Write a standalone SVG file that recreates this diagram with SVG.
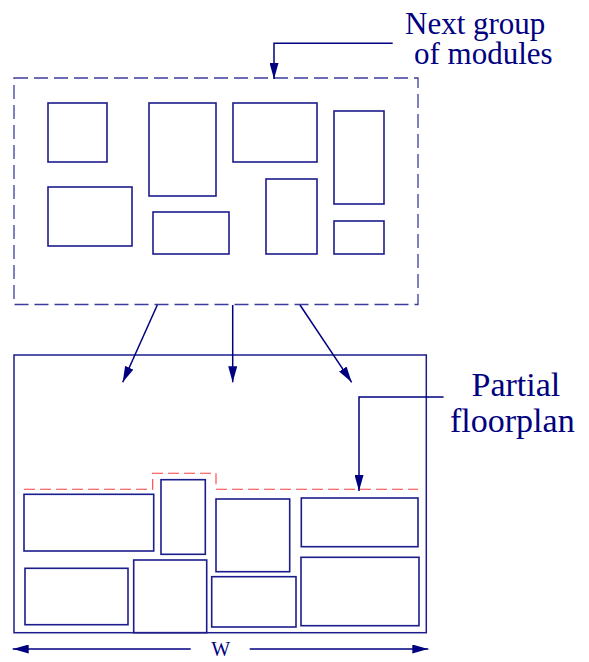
<svg xmlns="http://www.w3.org/2000/svg" width="589" height="662" viewBox="0 0 589 662">
<defs>
<marker id="ah" viewBox="0 0 16 9" refX="16" refY="4.5" markerWidth="16" markerHeight="9" markerUnits="userSpaceOnUse" orient="auto">
<path d="M0,0 L16,4.5 L0,9 Z" fill="#000080"/>
</marker>
<style>
.mod{fill:none;stroke:#1c1c8c;stroke-width:1.6}
.grp{fill:none;stroke:#3c3c9c;stroke-width:1.3;stroke-dasharray:14 6}
.outer{fill:none;stroke:#1c1c8c;stroke-width:1.5}
.red{fill:none;stroke:#ff4040;stroke-width:1.1;stroke-dasharray:11 5}
.con{fill:none;stroke:#000080;stroke-width:1.5}
.lbl{fill:#000080}
</style>
</defs>
<rect width="589" height="662" fill="#ffffff"/>
<g id="next-group">
<rect class="grp" x="14" y="78" width="404" height="226.5"/>
<rect class="mod" x="48" y="103" width="59" height="59"/>
<rect class="mod" x="149" y="103" width="67" height="93"/>
<rect class="mod" x="233" y="103" width="84" height="59"/>
<rect class="mod" x="334" y="111" width="50" height="93"/>
<rect class="mod" x="48" y="187" width="84" height="59"/>
<rect class="mod" x="153" y="212" width="76" height="42"/>
<rect class="mod" x="266" y="179" width="51" height="75"/>
<rect class="mod" x="334" y="221" width="50" height="33"/>
</g>
<g id="partial-floorplan">
<rect class="outer" x="14" y="355" width="412.3" height="277.7"/>
<path class="red" d="M24,489.3 H152.7 V473.3 H216 V489.3 H418"/>
<rect class="mod" x="24" y="494.3" width="129.7" height="56.7"/>
<rect class="mod" x="161" y="479.7" width="44.3" height="74.6"/>
<rect class="mod" x="216" y="499" width="73.7" height="72.7"/>
<rect class="mod" x="301.3" y="498" width="116.7" height="48.7"/>
<rect class="mod" x="25" y="568.3" width="103" height="56.4"/>
<rect class="mod" x="133.7" y="560" width="73" height="72.7"/>
<rect class="mod" x="211.7" y="576.7" width="84.3" height="50.3"/>
<rect class="mod" x="301" y="557.3" width="118" height="68.4"/>
</g>
<g id="labels">
<text class="lbl" x="405" y="34.3" font-size="31" font-family="'Liberation Serif', serif">Next group</text>
<text class="lbl" x="414" y="64" font-size="31" font-family="'Liberation Serif', serif">of modules</text>
<text class="lbl" x="471.5" y="396" font-size="34" font-family="'Liberation Serif', serif">Partial</text>
<text class="lbl" x="450" y="431.7" font-size="34" font-family="'Liberation Serif', serif">floorplan</text>
<text class="lbl" x="220.7" y="656" font-size="20" text-anchor="middle" font-family="'Liberation Serif', serif">W</text>
</g>
<g id="connectors">
<path class="con" d="M392.7,43.3 H274 V79" marker-end="url(#ah)"/>
<path class="con" d="M157.3,305 L122.7,382.3" marker-end="url(#ah)"/>
<path class="con" d="M232.7,305 L232.7,382.3" marker-end="url(#ah)"/>
<path class="con" d="M300,305 L351.7,382.3" marker-end="url(#ah)"/>
<path class="con" d="M443.6,397 H359 V491" marker-end="url(#ah)"/>
<path class="con" d="M190.7,649 H12.7" marker-end="url(#ah)"/>
<path class="con" d="M249.7,649 H428.3" marker-end="url(#ah)"/>
</g>
</svg>
